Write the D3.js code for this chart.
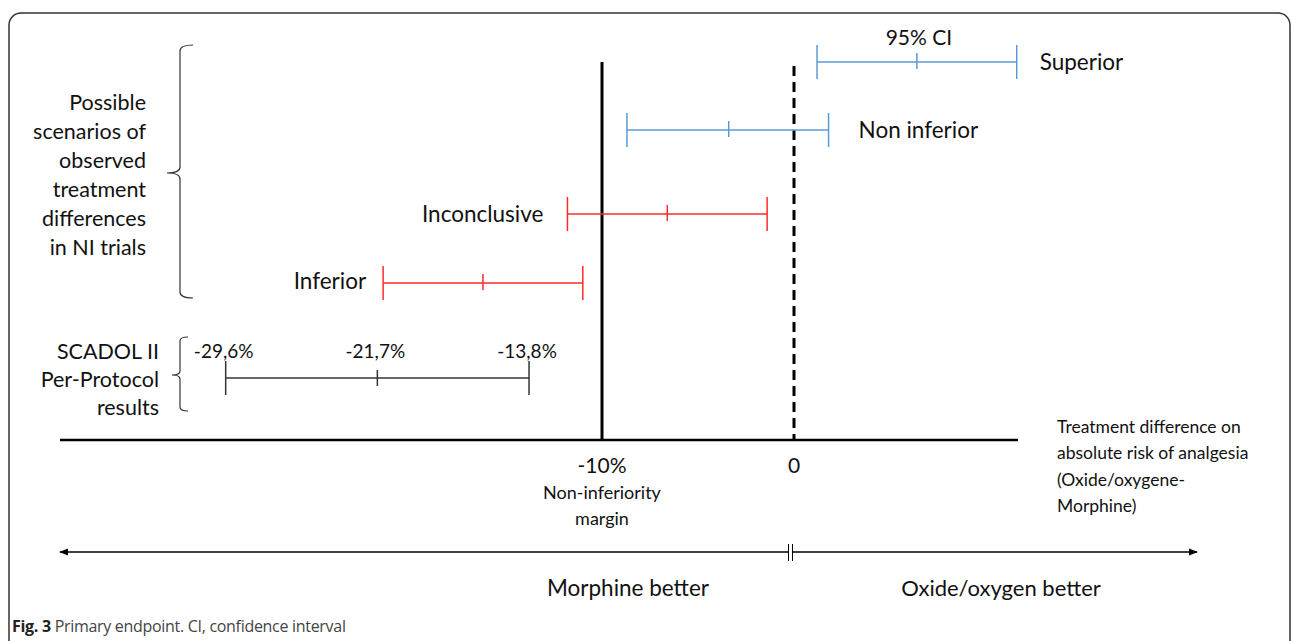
<!DOCTYPE html>
<html><head><meta charset="utf-8">
<script src="https://cdn.jsdelivr.net/npm/d3@7"></script>
<style>body{margin:0;background:#fff;} svg{display:block;} text{font-family:Lato,"Open Sans",sans-serif;fill:#111;}</style>
</head><body>
<svg id="c" width="1292" height="641"></svg>
<script>
// ---- data ----
const scenarioNames = ["Superior", "Non inferior", "Inconclusive", "Inferior"];
const scenarioLow = [1.2, -8.7, -11.8, -21.4];
const scenarioMid = [6.4, -3.4, -6.6, -16.2];
const scenarioHigh = [11.6, 1.8, -1.4, -11.0];
const scenarioColor = ["blue", "blue", "red", "red"];
const scadolValues = [-29.6, -21.7, -13.8];
const scadolLabels = ["-29,6%", "-21,7%", "-13,8%"];
const marginValue = -10;
const zeroValue = 0;
const axisLabels = ["-10%", "0"];
const leftTitle = ["Possible", "scenarios of", "observed", "treatment", "differences", "in NI trials"];
const scadolTitle = ["SCADOL II", "Per-Protocol", "results"];
const axisTitle = ["Treatment difference on", "absolute risk of analgesia", "(Oxide/oxygene-", "Morphine)"];
const directionLabels = ["Morphine better", "Oxide/oxygen better"];

// ---- drawing ----
const svg = d3.select("#c");
const x = d3.scaleLinear().domain([-10, 0]).range([602, 794]);
const rowPos = {"Superior":62, "Non inferior":130, "Inconclusive":214, "Inferior":283};
const colors = {blue:"#5b9bd5", red:"#ff2a2a"};

// frame
svg.append("rect").attr("x",9).attr("y",13).attr("width",1281).attr("height",660)
  .attr("rx",12).attr("fill","none").attr("stroke","#333").attr("stroke-width",1.5);

// reference lines
svg.append("line").attr("x1",x(marginValue)).attr("x2",x(marginValue)).attr("y1",62).attr("y2",440)
  .attr("stroke","#000").attr("stroke-width",3);
svg.append("line").attr("x1",x(zeroValue)).attr("x2",x(zeroValue)).attr("y1",66).attr("y2",440)
  .attr("stroke","#000").attr("stroke-width",3).attr("stroke-dasharray","10,6");

// axis
svg.append("line").attr("x1",60).attr("x2",1018).attr("y1",440).attr("y2",440)
  .attr("stroke","#000").attr("stroke-width",2.5);

// scenario bars
scenarioNames.forEach((n,i)=>{
  const y = rowPos[n], c = colors[scenarioColor[i]];
  const g = svg.append("g").attr("stroke",c).attr("stroke-width",1.5);
  g.append("line").attr("x1",x(scenarioLow[i])).attr("x2",x(scenarioHigh[i])).attr("y1",y).attr("y2",y);
  [scenarioLow[i], scenarioHigh[i]].forEach(v=>g.append("line").attr("x1",x(v)).attr("x2",x(v)).attr("y1",y-17).attr("y2",y+17));
  g.append("line").attr("x1",x(scenarioMid[i])).attr("x2",x(scenarioMid[i])).attr("y1",y-9).attr("y2",y+7);
});
// scenario labels
const lab = svg.append("g").attr("font-size",22.5);
lab.append("text").attr("x",x(scenarioHigh[0])+23).attr("y",rowPos["Superior"]).attr("dy","0.35em").text(scenarioNames[0]);
lab.append("text").attr("x",x(scenarioHigh[1])+30).attr("y",rowPos["Non inferior"]).attr("dy","0.35em").text(scenarioNames[1]);
lab.append("text").attr("x",x(scenarioLow[2])-24).attr("y",rowPos["Inconclusive"]).attr("dy","0.35em").attr("text-anchor","end").text(scenarioNames[2]);
lab.append("text").attr("x",x(scenarioLow[3])-17).attr("y",281).attr("dy","0.35em").attr("text-anchor","end").text(scenarioNames[3]);
lab.append("text").attr("x",x(scenarioMid[0])+2).attr("y",38).attr("dy","0.35em").attr("text-anchor","middle").attr("font-size",21).text("95% CI");

// SCADOL bar
const sy = 378;
const sg = svg.append("g").attr("stroke","#333").attr("stroke-width",1.5);
sg.append("line").attr("x1",x(scadolValues[0])).attr("x2",x(scadolValues[2])).attr("y1",sy).attr("y2",sy);
[scadolValues[0], scadolValues[2]].forEach(v=>sg.append("line").attr("x1",x(v)).attr("x2",x(v)).attr("y1",sy-17).attr("y2",sy+17));
sg.append("line").attr("x1",x(scadolValues[1])).attr("x2",x(scadolValues[1])).attr("y1",sy-8).attr("y2",sy+8);
scadolValues.forEach((v,i)=>svg.append("text").attr("x",x(v)-2).attr("y",351).attr("dy","0.35em")
  .attr("text-anchor","middle").attr("font-size",19).text(scadolLabels[i]));

// left titles
const lt = svg.append("g").attr("font-size",21.5).attr("text-anchor","end");
leftTitle.forEach((t,i)=>lt.append("text").attr("x",146).attr("y",102+i*29).attr("dy","0.35em").text(t));
scadolTitle.forEach((t,i)=>lt.append("text").attr("x",159).attr("y",351+i*28).attr("dy","0.35em").text(t));

// braces
function brace(xb, y0, y1, ym, tip, w, r){
  const p = d3.path();
  const xe = xb+w;
  p.moveTo(xe, y0); p.quadraticCurveTo(xb, y0, xb, y0+r);
  p.lineTo(xb, ym-r); p.quadraticCurveTo(xb, ym, tip, ym);
  p.quadraticCurveTo(xb, ym, xb, ym+r);
  p.lineTo(xb, y1-r); p.quadraticCurveTo(xb, y1, xe, y1);
  svg.append("path").attr("d",p.toString()).attr("fill","none").attr("stroke","#333").attr("stroke-width",1.2);
}
brace(180, 45, 298, 173, 167, 13, 6);
brace(180, 337, 411, 375, 172, 8, 4);

// axis labels
svg.append("text").attr("x",x(marginValue)).attr("y",466).attr("dy","0.35em").attr("text-anchor","middle").attr("font-size",21).text(axisLabels[0]);
svg.append("text").attr("x",x(zeroValue)).attr("y",466).attr("dy","0.35em").attr("text-anchor","middle").attr("font-size",21).text(axisLabels[1]);
svg.append("text").attr("x",x(marginValue)).attr("y",493).attr("dy","0.35em").attr("text-anchor","middle").attr("font-size",18).text("Non-inferiority");
svg.append("text").attr("x",x(marginValue)).attr("y",519).attr("dy","0.35em").attr("text-anchor","middle").attr("font-size",18).text("margin");
axisTitle.forEach((t,i)=>svg.append("text").attr("x",1057).attr("y",427+i*26.3).attr("dy","0.35em").attr("font-size",17.5).text(t));

// direction arrow
const ay = 552;
svg.append("defs").html('<marker id="ah" viewBox="0 0 10 10" refX="9" refY="5" markerWidth="7" markerHeight="7" orient="auto-start-reverse"><path d="M0,1 L10,5 L0,9 z" fill="#000"/></marker>');
svg.append("line").attr("x1",60).attr("x2",788).attr("y1",ay).attr("y2",ay).attr("stroke","#000").attr("stroke-width",1.3).attr("marker-start","url(#ah)");
svg.append("line").attr("x1",793).attr("x2",1197).attr("y1",ay).attr("y2",ay).attr("stroke","#000").attr("stroke-width",1.3).attr("marker-end","url(#ah)");
[788.5, 792.5].forEach(v=>svg.append("line").attr("x1",v).attr("x2",v).attr("y1",544).attr("y2",561).attr("stroke","#000").attr("stroke-width",1));
svg.append("text").attr("x",628).attr("y",588).attr("dy","0.35em").attr("text-anchor","middle").attr("font-size",22.5).text(directionLabels[0]);
svg.append("text").attr("x",1001).attr("y",588).attr("dy","0.35em").attr("text-anchor","middle").attr("font-size",22).text(directionLabels[1]);

// caption
const cap = svg.append("text").attr("x",12).attr("y",626).attr("dy","0.35em").attr("font-size",16).style("font-family","'Open Sans',sans-serif").attr("letter-spacing","-0.3");
cap.append("tspan").attr("font-weight","bold").style("fill","#222").text("Fig. 3");
cap.append("tspan").style("fill","#444").text(" Primary endpoint. CI, confidence interval");
</script>
</body></html>
